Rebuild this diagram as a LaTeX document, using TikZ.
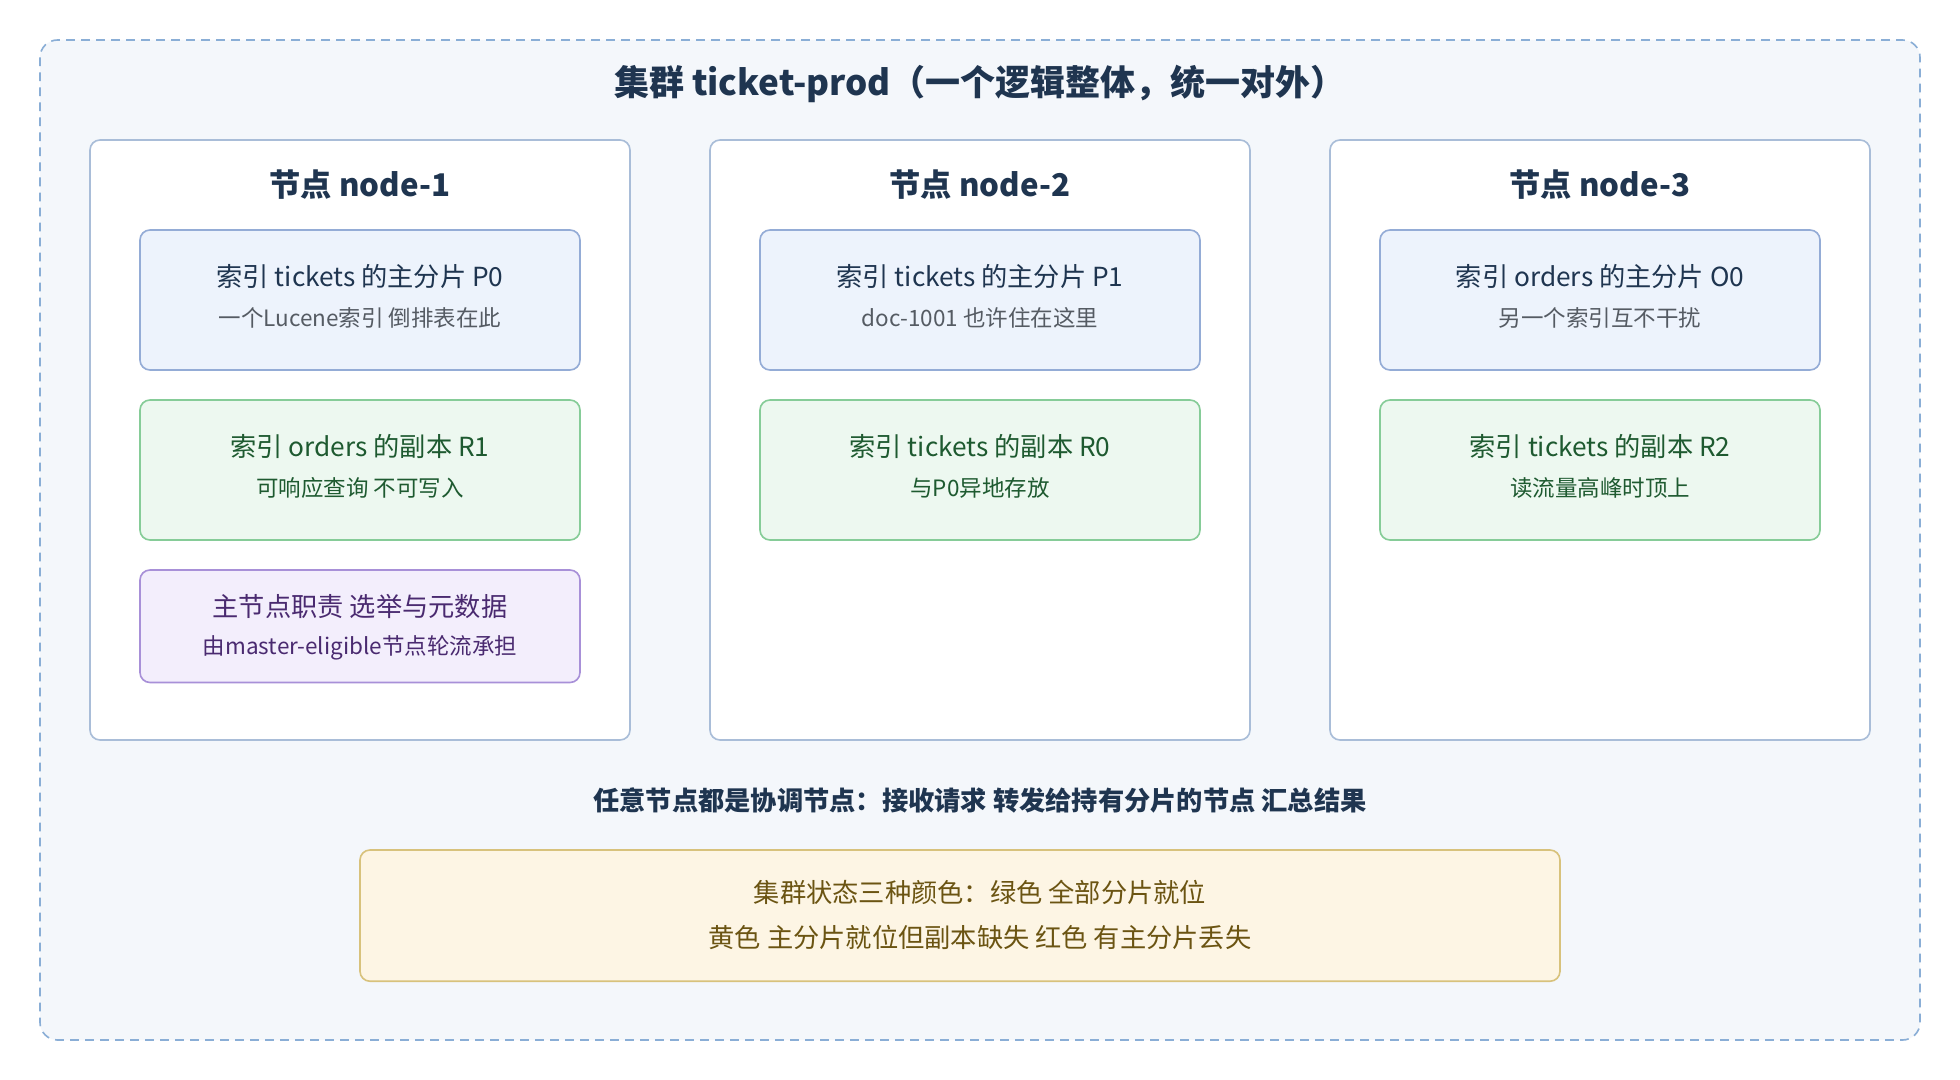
\documentclass[tikz,border=0pt]{standalone}
\usepackage{fontspec}
\setmainfont{Noto Sans CJK SC}
\definecolor{ndb}{HTML}{A9BDD8}
\definecolor{blb}{HTML}{94ACD6}
\definecolor{blf}{HTML}{EDF3FC}
\definecolor{grb}{HTML}{86CC98}
\definecolor{grf}{HTML}{EDF8F0}
\definecolor{pub}{HTML}{A890D8}
\definecolor{puf}{HTML}{F3EEFC}
\definecolor{yeb}{HTML}{D8C27C}
\definecolor{yef}{HTML}{FDF5E4}
\definecolor{bg}{HTML}{F4F7FB}
\definecolor{dsh}{HTML}{8AAED6}
\definecolor{bt}{HTML}{1F3550}
\definecolor{gt}{HTML}{1E5A30}
\definecolor{pt}{HTML}{4A2A70}
\definecolor{yt}{HTML}{6B5412}
\definecolor{st}{HTML}{555B63}
\begin{document}
\begin{tikzpicture}[x=1pt,y=-1pt,
 bx/.style={rounded corners=8pt,line width=1.3pt},
 nd/.style={bx,draw=ndb,fill=white},
 blue/.style={bx,draw=blb,fill=blf},
 green/.style={bx,draw=grb,fill=grf},
 purp/.style={bx,draw=pub,fill=puf},
 yel/.style={bx,draw=yeb,fill=yef},
 ttl/.style={font=\fontsize{25}{30}\selectfont\bfseries,text=bt},
 ma/.style={font=\fontsize{21}{25}\selectfont},
 sb/.style={font=\fontsize{18}{22}\selectfont}]
\fill[white] (0,0) rectangle (1568,864);
\useasboundingbox (0,0) rectangle (1568,864);
\draw[rounded corners=14pt,dash pattern=on 7pt off 5pt,line width=1.3pt,draw=dsh,fill=bg] (32,32) rectangle (1536,832);
\node[font=\fontsize{28}{34}\selectfont\bfseries,text=bt] (title) at (784,67) {集群 ticket-prod（一个逻辑整体，统一对外）};
\foreach \i/\x in {1/72,2/568,3/1064}{
 \draw[nd] (\x,112) rectangle ++(432,480);
 \node[ttl] (n\i) at (\x+216,148) {节点 node-\i};
}
% node 1
\draw[blue] (112,184) rectangle (464,296);
\node[ma,text=bt] (a1) at (288,221) {索引 tickets 的主分片 P0};
\node[sb,text=st] (a2) at (288,254) {一个Lucene索引 倒排表在此};
\draw[green] (112,320) rectangle (464,432);
\node[ma,text=gt] (b1) at (288,357) {索引 orders 的副本 R1};
\node[sb,text=gt] (b2) at (288,390) {可响应查询 不可写入};
\draw[purp] (112,456) rectangle (464,546);
\node[ma,text=pt] (c1) at (288,485) {主节点职责 选举与元数据};
\node[sb,text=pt] (c2) at (288,518) {由master-eligible节点轮流承担};
% node 2
\draw[blue] (608,184) rectangle (960,296);
\node[ma,text=bt] (d1) at (784,221) {索引 tickets 的主分片 P1};
\node[sb,text=st] (d2) at (784,254) {doc-1001 也许住在这里};
\draw[green] (608,320) rectangle (960,432);
\node[ma,text=gt] (e1) at (784,357) {索引 tickets 的副本 R0};
\node[sb,text=gt] (e2) at (784,390) {与P0异地存放};
% node 3
\draw[blue] (1104,184) rectangle (1456,296);
\node[ma,text=bt] (f1) at (1280,221) {索引 orders 的主分片 O0};
\node[sb,text=st] (f2) at (1280,254) {另一个索引互不干扰};
\draw[green] (1104,320) rectangle (1456,432);
\node[ma,text=gt] (g1) at (1280,357) {索引 tickets 的副本 R2};
\node[sb,text=gt] (g2) at (1280,390) {读流量高峰时顶上};
\node[font=\fontsize{21}{25}\selectfont\bfseries,text=bt] (co) at (784,640) {任意节点都是协调节点：接收请求 转发给持有分片的节点 汇总结果};
\draw[yel] (288,680) rectangle (1248,785);
\node[ma,text=yt] (y1) at (784,714) {集群状态三种颜色：绿色 全部分片就位};
\node[ma,text=yt] (y2) at (784,750) {黄色 主分片就位但副本缺失 红色 有主分片丢失};
\end{tikzpicture}
\end{document}
